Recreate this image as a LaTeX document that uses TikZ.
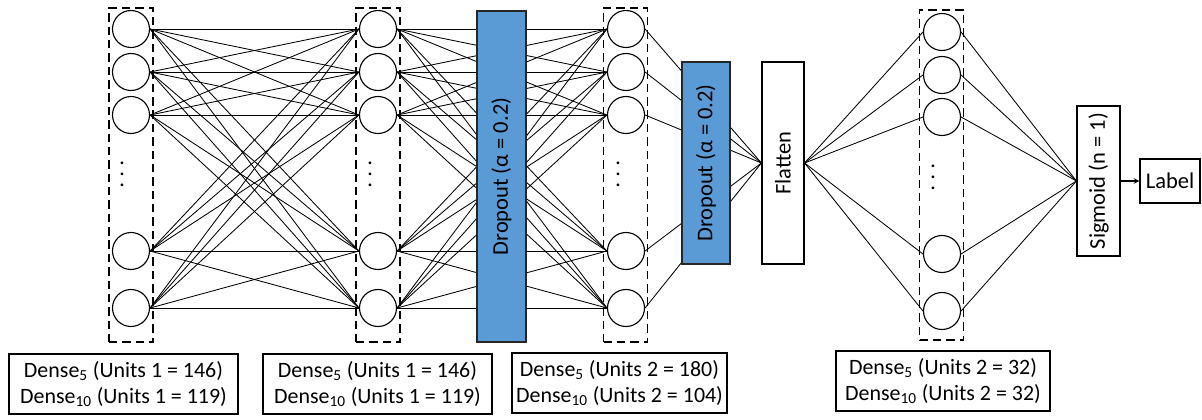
\documentclass[tikz,border=0pt]{standalone}
\usepackage{fontspec}
\usepackage{graphicx}
\usepackage{tikz}
\usepackage{xcolor}
\setmainfont{Carlito}
\definecolor{dropblue}{RGB}{91,155,213}

\begin{document}
\begin{tikzpicture}[>=stealth, x=0.025cm, y=-0.025cm, semithick,
        font=\fontsize{16}{19.5}\selectfont,
        neuron/.style={draw, thick, circle, fill=white, inner sep=0pt, minimum size=0.925cm},
        layerbox/.style={draw, thick, dash pattern=on 6pt off 3.5pt, minimum width=1.1cm, minimum height=8.35cm},
        dropbox/.style={draw=black!85, thick, fill=dropblue, inner sep=0pt},
        opbox/.style={draw, thick, fill=white, inner sep=0pt},
        infobox/.style={draw, thick, align=center, inner sep=0pt, minimum height=1.5cm,
            font=\fontsize{15.6}{19}\selectfont},
        vdotsnode/.style={inner sep=0pt}]
    \useasboundingbox (0,0) rectangle (1202,420);
        % neurons
        \foreach \n/\y in {1/29, 2/72, 3/115, 4/251, 5/308} {
            \node[neuron] (a\n) at (131, \y) {};
            \node[neuron] (b\n) at (378, \y) {};
            \node[neuron] (c\n) at (626, \y) {};
        }
        \foreach \n/\y in {1/32, 2/75, 3/117, 4/254, 5/311}
            \node[neuron] (d\n) at (942, \y) {};
        \node[vdotsnode] (da) at (122, 174) {\rotatebox{-90}{.\kern3.8pt.\kern3.8pt.}};
        \node[vdotsnode] (db) at (370, 174) {\rotatebox{-90}{.\kern3.8pt.\kern3.8pt.}};
        \node[vdotsnode] (dc) at (618, 174) {\rotatebox{-90}{.\kern3.8pt.\kern3.8pt.}};
        \node[vdotsnode] (dd) at (933, 177) {\rotatebox{-90}{.\kern3.8pt.\kern3.8pt.}};
        % dashed layer boxes
        \node[layerbox] (la) at (131, 175) {};
        \node[layerbox] (lb) at (378, 175) {};
        \node[layerbox] (lc) at (625.5, 175) {};
        \node[layerbox, minimum height=8.25cm] (ld) at (941.5, 175) {};
        % flatten, sigmoid, label
        \node[opbox, minimum width=1.05cm, minimum height=5.05cm] (flat) at (783, 163) {\rotatebox{90}{Flatten}};
        \node[opbox, minimum width=1.075cm, minimum height=3.75cm] (sig) at (1098.5, 181) {\rotatebox{90}{Sigmoid (n = 1)}};
        \node[opbox, minimum width=1.5cm, minimum height=1.1cm] (lab) at (1170, 181) {Label};
        % connections
        \foreach \i in {1,...,5}
            \foreach \j in {1,...,5} {
                \draw (a\i.east) to (b\j.west);
                \draw (b\i.east) to (c\j.west);
            }
        \foreach \i in {1,...,5} {
            \draw (c\i.east) to (flat.west);
            \draw (flat.east) to (d\i.west);
            \draw (d\i.east) to (sig.west);
        }
        \draw[->, thick] (sig.east) to (lab.west);
        % dropout layers on top
        \node[dropbox, minimum width=1.225cm, minimum height=8.275cm] (drop1) at (501.5, 176.5) {\rotatebox{90}{Dropout (α = 0.2)}};
        \node[dropbox, minimum width=1.2cm, minimum height=5.05cm] (drop2) at (706, 163) {\rotatebox{90}{Dropout (α = 0.2)}};
        % layer sizes
        \node[infobox, minimum width=5.725cm] (ua) at (123.5, 384) {Dense\textsubscript{5} (Units 1 = 146)\\Dense\textsubscript{10} (Units 1 = 119)};
        \node[infobox, minimum width=5.725cm] (ub) at (377.5, 384) {Dense\textsubscript{5} (Units 1 = 146)\\Dense\textsubscript{10} (Units 1 = 119)};
        \node[infobox, minimum width=5.375cm] (uc) at (619.5, 383) {Dense\textsubscript{5} (Units 2 = 180)\\Dense\textsubscript{10} (Units 2 = 104)};
        \node[infobox, minimum width=5.35cm] (ud) at (943, 381) {Dense\textsubscript{5} (Units 2 = 32)\\Dense\textsubscript{10} (Units 2 = 32)};
    \end{tikzpicture}
\end{document}
